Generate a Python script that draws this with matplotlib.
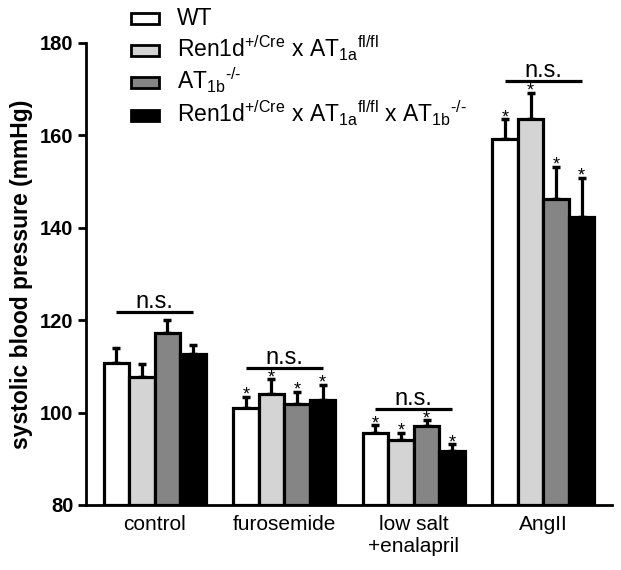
import numpy as np
import matplotlib
matplotlib.use('Agg')
from matplotlib import pyplot as plt
from matplotlib.patches import Rectangle

plt.rcParams['font.family'] = 'Liberation Sans'
plt.rcParams['mathtext.fontset'] = 'custom'
plt.rcParams['mathtext.rm'] = 'Liberation Sans'
plt.rcParams['mathtext.it'] = 'Liberation Sans'

categories = ['control', 'furosemide', 'low salt\n+enalapril', 'AngII']
groups = ['WT',
          r'Ren1d$^{\text{+/Cre}}$ x AT$_{\text{1a}}$$^{\text{fl/fl}}$',
          r'AT$_{\text{1b}}$$^{\text{-/-}}$',
          r'Ren1d$^{\text{+/Cre}}$ x AT$_{\text{1a}}$$^{\text{fl/fl}}$ x AT$_{\text{1b}}$$^{\text{-/-}}$']
colors = ['white', '#d4d4d4', '#858585', 'black']

# mean values per group (rows) for each condition (columns)
means = [[110.8, 100.9, 95.5, 159.2],
         [107.6, 104.0, 94.1, 163.5],
         [117.3, 101.8, 97.0, 146.2],
         [112.7, 102.7, 91.6, 142.3]]
# upper end of error bars
err_top = [[114.0, 103.4, 97.3, 163.5],
           [110.5, 107.2, 95.6, 169.2],
           [120.0, 104.5, 98.3, 153.2],
           [114.6, 106.0, 93.1, 150.8]]
# star shown above bar? (control has none)
stars = [False, True, True, True]
ns_level = [121.8, 109.7, 100.8, 171.8]

W, H = 621, 570
fig = plt.figure(figsize=(W / 100, H / 100), dpi=100)
ax = fig.add_axes([86 / W, 1 - 505 / H, 526 / W, 462 / H])

x = np.arange(len(categories))
w = 0.197
for i in range(4):
    m = np.array(means[i])
    e = np.array(err_top[i]) - m
    pos = x + (i - 1.5) * w
    ax.errorbar(pos, m, yerr=[np.zeros_like(e), e], fmt='none', ecolor='black',
                elinewidth=2.3, capsize=3, capthick=2.5, zorder=1)
    ax.bar(pos, m - 80, bottom=80, width=w, color=colors[i], edgecolor='black',
           linewidth=2.3, zorder=2)
    for j in range(len(categories)):
        if stars[j]:
            ax.text(pos[j], err_top[i][j] - 1.5, '*', ha='center', va='bottom',
                    fontsize=13, zorder=3)

for j in range(len(categories)):
    x0 = x[j] - 1.5 * w
    x1 = x[j] + 1.5 * w
    ax.plot([x0, x1], [ns_level[j], ns_level[j]], color='black', lw=2.3,
            solid_capstyle='butt')
    ax.text(x[j], ns_level[j] + 0.9, 'n.s.', ha='center', va='baseline', fontsize=17)

ax.set_xlim(-0.53, 3.53)
ax.set_ylim(80, 180)
ax.set_yticks([80, 100, 120, 140, 160, 180])
ax.set_xticks(x)
ax.set_xticklabels(categories, fontsize=15, linespacing=1.25)
ax.tick_params(axis='x', length=0, pad=7)
ax.tick_params(axis='y', width=2, length=6, labelsize=14.5, pad=3)
for lab in ax.get_yticklabels():
    lab.set_fontweight('bold')
ax.set_ylabel('systolic blood pressure (mmHg)', fontsize=16.5, fontweight='bold',
              labelpad=5)
ax.spines['top'].set_visible(False)
ax.spines['right'].set_visible(False)
ax.spines['left'].set_linewidth(2)
ax.spines['bottom'].set_linewidth(2)

# legend drawn by hand so the rows keep an even spacing
baselines = [25, 57, 89, 122]
for i in range(4):
    yb = baselines[i]
    fig.patches.append(Rectangle((131 / W, 1 - (yb - 1) / H), 28 / W, 11 / H,
                                 transform=fig.transFigure, facecolor=colors[i],
                                 edgecolor='black', linewidth=2.0))
    fig.text(177 / W, 1 - yb / H, groups[i], fontsize=16.5, va='baseline', ha='left')

fig.savefig('out.png', dpi=100)
